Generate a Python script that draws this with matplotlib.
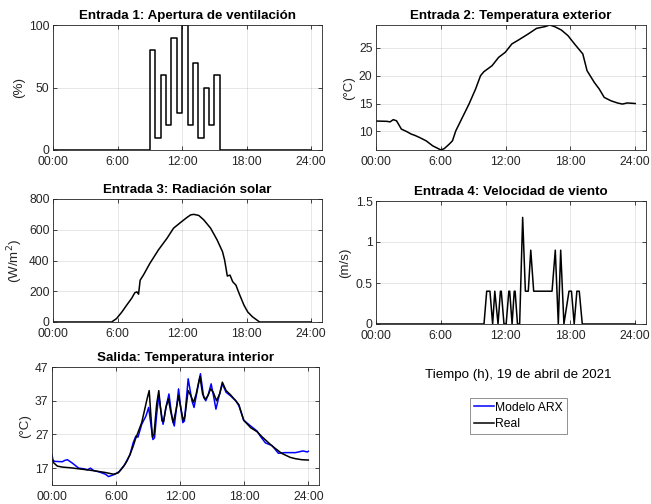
import numpy as np
import matplotlib
matplotlib.use("Agg")
import matplotlib.pyplot as plt

plt.rcParams['font.family'] = ['Liberation Sans', 'DejaVu Sans']

# Entrada 1: apertura de ventilacion (%), escalones cada media hora
vent_h = [0, 9.0, 9.5, 10.0, 10.5, 11.0, 11.5, 12.0, 12.5, 13.0, 13.5, 14.0, 14.5, 15.0, 15.5, 24.0]
vent_pct = [0, 80, 10, 60, 20, 90, 30, 100, 20, 70, 10, 50, 20, 60, 0, 0]

# Entrada 2: temperatura exterior (C)
text_h = [0, 1.0, 1.3, 1.6, 1.9, 2.35, 2.8, 3.27, 3.57, 4.03, 4.64, 5.25, 5.71, 6.02, 6.32,
          6.78, 7.08, 7.39, 8.0, 8.61, 9.22, 9.68, 9.98, 10.75, 11.36, 11.97, 12.58, 13.19,
          14.1, 14.87, 15.63, 16.09, 16.55, 17.16, 17.77, 18.38, 19.15, 19.54, 20.21, 20.67,
          21.13, 21.74, 22.35, 22.81, 23.27, 24.0]
text_c = [11.85, 11.8, 11.7, 12.1, 11.9, 10.4, 10.0, 9.5, 9.3, 8.9, 8.3, 7.4, 6.95, 6.65, 6.9,
          7.7, 8.3, 10.1, 12.5, 14.9, 17.6, 20.0, 20.7, 21.8, 23.3, 24.2, 25.7, 26.4,
          27.5, 28.5, 28.8, 29.1, 28.8, 28.2, 27.2, 25.7, 23.9, 20.9, 18.8, 17.6,
          16.1, 15.5, 15.1, 14.9, 15.1, 15.0]

# Entrada 3: radiacion solar (W/m2)
rad_h = [0, 5.45, 5.9, 6.4, 6.85, 7.3, 7.6, 7.8, 7.95, 8.1, 8.4, 9.0, 9.8, 10.6, 11.2, 11.85,
         12.45, 12.8, 13.1, 13.55, 14.0, 14.65, 15.25, 15.75, 15.95, 16.2, 16.45, 16.7, 17.0,
         17.3, 17.75, 18.1, 18.55, 19.2, 24.0]
rad_w = [0, 0, 22, 65, 110, 153, 190, 196, 181, 272, 305, 381, 469, 545, 610, 647,
         680, 697, 700, 693, 665, 610, 534, 458, 403, 299, 305, 262, 240,
         185, 109, 65, 33, 0, 0]

# Entrada 4: velocidad de viento (m/s)
wind_h = [0, 10.0, 10.25, 10.55, 10.8, 11.0, 11.3, 11.52, 11.6, 11.85, 12.05, 12.3, 12.38,
          12.6, 12.8, 12.88, 13.1, 13.3, 13.58, 13.83, 14.1, 14.33, 14.6, 16.3, 16.6, 16.88,
          17.1, 17.4, 17.87, 18.1, 18.35, 18.6, 18.82, 19.1, 24.0]
wind_ms = [0, 0, 0.4, 0.4, 0, 0.4, 0, 0.4, 0.4, 0, 0, 0.4, 0.4,
           0, 0.4, 0.4, 0, 0, 1.3, 0.4, 0.4, 0.9, 0.4, 0.4, 0.9, 0,
           0.9, 0, 0.4, 0.4, 0, 0.4, 0.4, 0, 0]

# Salida: temperatura interior real (C)
real_h = [0, 0.15, 0.5, 1.0, 1.75, 2.5, 3.3, 4.2, 5.0, 5.75, 6.2, 6.7, 7.0, 7.3, 7.6, 7.8,
          8.1, 8.4, 8.6, 8.9, 9.1, 9.25, 9.4, 9.55, 9.8, 10.0, 10.15, 10.3, 10.45, 10.65,
          10.9, 11.1, 11.35, 11.6, 11.85, 12.05, 12.3, 12.45, 12.75, 13.0, 13.25, 13.5,
          13.85, 14.1, 14.35, 14.6, 14.85, 15.1, 15.4, 15.7, 15.95, 16.3, 16.7, 17.2, 17.5,
          17.95, 18.6, 19.2, 19.7, 20.6, 21.5, 22.3, 22.8, 23.4, 24.0]
real_c = [20.0, 18.6, 17.6, 17.3, 17.1, 16.8, 16.5, 16.1, 15.7, 15.2, 15.6, 17.5, 19.0, 21.0,
          23.5, 25.5, 28.0, 30.5, 33.3, 37.5, 40.0, 33.0, 26.2, 27.0, 36.0, 40.0, 35.0, 31.0,
          30.8, 34.8, 37.5, 34.0, 30.5, 34.0, 38.5, 35.0, 31.0, 32.5, 40.0, 38.5, 36.5,
          39.0, 44.2, 39.0, 37.4, 38.5, 40.5, 39.5, 37.0, 39.0, 42.5, 40.0, 38.8, 37.0,
          35.8, 31.2, 29.0, 27.8, 26.2, 23.6, 21.4, 20.2, 19.8, 19.5, 19.4]

# Salida: temperatura interior del modelo ARX (C)
arx_h = [0, 0.1, 0.3, 0.96, 1.2, 1.45, 1.9, 2.5, 3.0, 3.3, 3.6, 3.9, 4.5, 5.0, 5.3, 5.9,
         6.3, 6.8, 7.3, 7.6, 7.85, 8.05, 8.4, 8.8, 9.05, 9.3, 9.45, 9.6, 9.8, 10.0, 10.25,
         10.4, 10.7, 10.95, 11.15, 11.3, 11.45, 11.7, 11.85, 12.05, 12.25, 12.4, 12.75, 13.1,
         13.3, 13.6, 13.9, 14.2, 14.4, 14.65, 14.9, 15.15, 15.35, 15.65, 15.95, 16.3, 16.7,
         17.2, 17.5, 17.95, 18.6, 19.2, 19.5, 19.98, 20.6, 21.2, 21.8, 22.8, 23.5, 23.9, 24.0]
arx_c = [21.0, 19.2, 19.0, 18.9, 19.3, 19.5, 18.5, 17.0, 16.8, 16.5, 17.0, 16.3, 15.8, 15.2,
         14.5, 15.2, 16.0, 18.0, 21.0, 24.5, 26.5, 26.2, 30.0, 32.5, 35.0, 29.0, 25.5, 26.0,
         33.0, 38.5, 33.0, 30.0, 35.5, 39.0, 34.0, 31.0, 29.5, 36.0, 40.5, 35.0, 30.5, 31.0,
         43.5, 37.0, 35.0, 40.0, 45.0, 38.0, 37.0, 39.0, 42.0, 38.0, 34.5, 38.5, 42.0, 39.5,
         38.5, 37.0, 35.5, 31.2, 29.5, 28.0, 26.5, 24.5, 23.7, 21.4, 21.6, 21.6, 22.1, 21.8,
         22.0]

hour_ticks = [0, 6, 12, 18, 24]
hour_labels = ['00:00', '6:00', '12:00', '18:00', '24:00']

AX_GRAY = '#262626'


def matlab_axes(ax, title, ylabel, yticks, ylim, yticklabels=None):
    ax.set_xlim(0, 25)
    ax.set_ylim(*ylim)
    ax.set_xticks(hour_ticks)
    ax.set_xticklabels(hour_labels)
    ax.set_yticks(yticks)
    if yticklabels is not None:
        ax.set_yticklabels(yticklabels)
    ax.tick_params(direction='in', top=True, right=True, length=3, width=0.6,
                   labelsize=8.7, colors=AX_GRAY, labelcolor=AX_GRAY)
    ax.tick_params(axis='x', pad=4.5)
    ax.tick_params(axis='y', pad=2.5)
    for s in ax.spines.values():
        s.set_color(AX_GRAY)
        s.set_linewidth(0.6)
    ax.grid(True, color='#262626', alpha=0.13, linewidth=0.6)
    ax.set_title(title, fontsize=9.6, fontweight='bold', pad=4)
    ax.set_ylabel(ylabel, fontsize=9.6, color=AX_GRAY, labelpad=3)


fig = plt.figure(figsize=(6.51, 5.04), dpi=100)

ax1 = fig.add_axes([53/651, 1 - 150/504, 269/651, 125/504])
ax1.plot(vent_h, vent_pct, drawstyle='steps-post', color='k', lw=1.1)
matlab_axes(ax1, 'Entrada 1: Apertura de ventilación', '(%)', [0, 50, 100], (0, 100))

ax2 = fig.add_axes([376/651, 1 - 150/504, 270/651, 125/504])
ax2.plot(text_h, text_c, color='k', lw=1.1)
matlab_axes(ax2, 'Entrada 2: Temperatura exterior', '(°C)', [10, 15, 20, 25],
            (min(text_c), max(text_c)))

ax3 = fig.add_axes([53/651, 1 - 322/504, 269/651, 123/504])
ax3.plot(rad_h, rad_w, color='k', lw=1.1)
matlab_axes(ax3, 'Entrada 3: Radiación solar', '(W/m$^2$)', [0, 200, 400, 600, 800], (0, 800))

ax4 = fig.add_axes([376/651, 1 - 324/504, 270/651, 123/504])
ax4.plot(wind_h, wind_ms, color='k', lw=1.1)
matlab_axes(ax4, 'Entrada 4: Velocidad de viento', '(m/s)', [0, 0.5, 1, 1.5], (0, 1.5),
            ['0', '0.5', '1', '1.5'])

ax5 = fig.add_axes([52/651, 1 - 485/504, 267/651, 118/504])
l_arx, = ax5.plot(arx_h, arx_c, color='#0000ff', lw=1.1, label='Modelo ARX')
l_real, = ax5.plot(real_h, real_c, color='k', lw=1.1, label='Real')
matlab_axes(ax5, 'Salida: Temperatura interior', '(°C)', [17, 27, 37, 47], (12, 47))

fig.text(518/651, 1 - 375/504, 'Tiempo (h), 19 de abril de 2021', ha='center', va='center',
         fontsize=9.6)

leg = fig.legend(handles=[l_arx, l_real], loc='upper left',
                 bbox_to_anchor=(470/651, 1 - 398/504), fontsize=8.7, fancybox=False,
                 handlelength=1.7, handletextpad=0.1, borderpad=0.3, labelspacing=0.4,
                 borderaxespad=0, framealpha=1)
leg.get_frame().set_edgecolor('#7f7f7f')
leg.get_frame().set_linewidth(0.6)

fig.savefig('out.png', dpi=100)
